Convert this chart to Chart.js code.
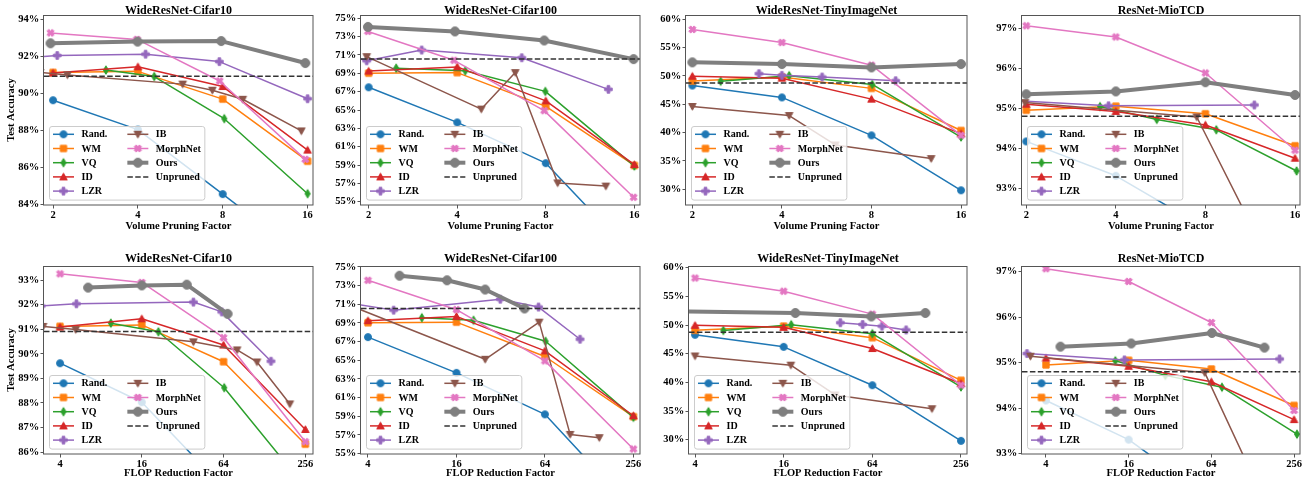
<!DOCTYPE html>
<html>
<head>
<meta charset="utf-8">
<script src="https://cdn.jsdelivr.net/npm/chart.js@4.4.1/dist/chart.umd.min.js"></script>
<style>
  body { margin: 0; background: #fff; }
  #wrap { position: relative; width: 1308px; height: 482px; overflow: hidden; }
  #wrap canvas { position: absolute; }
</style>
</head>
<body>
<div id="wrap"></div>
<script>
// x positions shared by methods that sit on the tick values
const volSteps = [2, 4, 8, 16];
const flopSteps = [4, 16, 64, 256];

// tick labels
const volTicks = [2, 4, 8, 16];
const flopTicks = [4, 16, 64, 256];
const c10VolYTicks = [84, 86, 88, 90, 92, 94];
const c10FlopYTicks = [86, 87, 88, 89, 90, 91, 92, 93];
const c100YTicks = [55, 57, 59, 61, 63, 65, 67, 69, 71, 73, 75];
const tinYTicks = [30, 35, 40, 45, 50, 55, 60];
const mioYTicks = [93, 94, 95, 96, 97];

// WideResNet-Cifar10 (accuracy %, volume factor, FLOP factor)
const c10Rand = [89.62, 88.03, 84.54, 81.0];
const c10WM = [91.12, 91.18, 89.68, 86.32];
const c10VQ = [91.25, 90.9, 88.62, 84.56];
const c10VQVol = [3.08, 4.57, 8.1, 16];
const c10VQFlop = [9.47, 21.2, 64.7, 256];
const c10ID = [91.09, 91.43, 90.36, 86.92];
const c10LZR = [91.95, 92.04, 92.11, 91.71, 89.7];
const c10LZRVol = [1.75, 2.07, 4.26, 7.78, 16];
const c10LZRFlop = [2.9, 5.28, 38.4, 62.1, 143];
const c10IB = [91.12, 90.99, 90.49, 90.16, 89.67, 87.96];
const c10IBVol = [1.8, 2.25, 5.77, 7.35, 9.42, 15.2];
const c10IBFlop = [3.0, 5.22, 38.4, 80.5, 112.8, 197];
const c10Morph = [93.26, 92.91, 90.66, 86.42];
const c10MorphVol = [1.96, 3.97, 7.8, 15.7];
const c10Ours = [92.7, 92.79, 92.82, 91.63];
const c10OursVol = [1.96, 3.99, 7.9, 15.7];
const c10OursFlop = [6.44, 16, 34.3, 68.5];
const c10Unpruned = 90.91;

// WideResNet-Cifar100
const c100Rand = [67.48, 63.65, 59.2, 49.0];
const c100WM = [69.02, 69.08, 65.4, 58.95];
const c100VQ = [69.56, 69.28, 67.03, 58.88];
const c100VQVol = [2.48, 4.26, 7.97, 16];
const c100VQFlop = [9.3, 20.9, 64.7, 256];
const c100ID = [69.24, 69.7, 66.0, 59.05];
const c100LZR = [71.2, 70.37, 71.54, 70.7, 67.25];
const c100LZRVol = [1.6, 1.97, 3.03, 6.63, 13.06];
const c100LZRFlop = [2.8, 5.98, 31.8, 57.9, 111];
const c100IB = [70.82, 65.1, 69.08, 57.05, 56.7];
const c100IBVol = [1.97, 4.83, 6.3, 8.78, 12.8];
const c100IBFlop = [3.07, 25.1, 58.5, 95, 150];
const c100Morph = [73.57, 70.42, 64.93, 55.48];
const c100MorphVol = [1.99, 3.9, 7.9, 15.9];
const c100Ours = [74.06, 73.57, 72.58, 70.55];
const c100OursVol = [1.99, 3.93, 7.9, 15.9];
const c100OursFlop = [6.56, 13.8, 25.1, 46.5];
const c100Unpruned = 70.55;

// WideResNet-TinyImageNet
const tinRand = [48.3, 46.2, 39.5, 29.8];
const tinWM = [49.1, 49.8, 47.8, 40.35];
const tinVQ = [49.05, 50.05, 48.5, 39.2];
const tinVQVol = [2.49, 4.23, 8.05, 16];
const tinVQFlop = [6.23, 18.0, 64, 256];
const tinID = [49.95, 49.6, 45.9, 39.8];
const tinLZR = [50.4, 50.1, 49.8, 49.15];
const tinLZRVol = [3.35, 4.0, 5.46, 9.65];
const tinLZRFlop = [38.8, 55, 74.4, 108.5];
const tinIB = [44.6, 43.0, 37.8, 35.4];
const tinIBVol = [2, 4.23, 6.05, 12.7];
const tinIBFlop = [4, 17.9, 35.8, 162.7];
const tinMorph = [58.2, 55.9, 51.9, 39.5];
const tinOurs = [52.4, 52.1, 51.5, 52.1];
const tinOursFlop = [3.0, 19.2, 63, 146.6];
const tinUnpruned = 48.75;

// ResNet-MioTCD
const mioRand = [94.17, 93.31, 92.0, 89.5];
const mioWM = [94.95, 95.05, 94.86, 94.06];
const mioVQ = [95.04, 94.72, 94.46, 93.43];
const mioVQVol = [3.54, 5.49, 8.7, 16.2];
const mioVQFlop = [12.8, 29.6, 76.5, 269];
const mioID = [95.1, 94.92, 94.58, 93.75];
const mioLZR = [95.2, 95.06, 95.08];
const mioLZRVol = [1.75, 3.78, 11.68];
const mioLZRFlop = [2.91, 14.9, 201];
const mioIB = [95.14, 94.78, 91.0];
const mioIBVol = [1.98, 7.48, 13.5];
const mioIBFlop = [3.08, 57.3, 220];
const mioMorph = [97.06, 96.78, 95.88, 93.95];
const mioOurs = [95.35, 95.42, 95.65, 95.33];
const mioOursFlop = [5.1, 16.7, 64.6, 156];
const mioUnpruned = 94.8;

// [acc, vol x, flop x] per method, in legend order
const c10Series = [
  [c10Rand, volSteps, flopSteps], [c10WM, volSteps, flopSteps], [c10VQ, c10VQVol, c10VQFlop],
  [c10ID, volSteps, flopSteps], [c10LZR, c10LZRVol, c10LZRFlop], [c10IB, c10IBVol, c10IBFlop],
  [c10Morph, c10MorphVol, flopSteps], [c10Ours, c10OursVol, c10OursFlop]
];
const c100Series = [
  [c100Rand, volSteps, flopSteps], [c100WM, volSteps, flopSteps], [c100VQ, c100VQVol, c100VQFlop],
  [c100ID, volSteps, flopSteps], [c100LZR, c100LZRVol, c100LZRFlop], [c100IB, c100IBVol, c100IBFlop],
  [c100Morph, c100MorphVol, flopSteps], [c100Ours, c100OursVol, c100OursFlop]
];
const tinSeries = [
  [tinRand, volSteps, flopSteps], [tinWM, volSteps, flopSteps], [tinVQ, tinVQVol, tinVQFlop],
  [tinID, volSteps, flopSteps], [tinLZR, tinLZRVol, tinLZRFlop], [tinIB, tinIBVol, tinIBFlop],
  [tinMorph, volSteps, flopSteps], [tinOurs, volSteps, tinOursFlop]
];
const mioSeries = [
  [mioRand, volSteps, flopSteps], [mioWM, volSteps, flopSteps], [mioVQ, mioVQVol, mioVQFlop],
  [mioID, volSteps, flopSteps], [mioLZR, mioLZRVol, mioLZRFlop], [mioIB, mioIBVol, mioIBFlop],
  [mioMorph, volSteps, flopSteps], [mioOurs, volSteps, mioOursFlop]
];

const FONT = "'Liberation Serif', 'Times New Roman', serif";

const methodStyle = [
  { label: 'Rand.', color: '#1f77b4', marker: 'o', size: 8, width: 1.5 },
  { label: 'WM', color: '#ff7f0e', marker: 's', size: 8, width: 1.5 },
  { label: 'VQ', color: '#2ca02c', marker: 'd', size: 9.5, width: 1.5 },
  { label: 'ID', color: '#d62728', marker: '^', size: 8.5, width: 1.5 },
  { label: 'LZR', color: '#9467bd', marker: 'P', size: 8.5, width: 1.5 },
  { label: 'IB', color: '#8c564b', marker: 'v', size: 8.5, width: 1.5 },
  { label: 'MorphNet', color: '#e377c2', marker: 'X', size: 8.5, width: 1.5 },
  { label: 'Ours', color: '#7f7f7f', marker: 'o', size: 10, width: 4 }
];

// small canvases used as point styles (matplotlib-like markers)
function makeMarker(kind, color, size) {
  const d = Math.ceil(size) + 4;
  const c = document.createElement('canvas');
  c.width = d; c.height = d;
  const g = c.getContext('2d');
  g.translate(d / 2, d / 2);
  g.fillStyle = color;
  g.strokeStyle = color;
  g.lineWidth = 1;
  g.lineJoin = 'miter';
  const r = size / 2 - 0.5;
  g.beginPath();
  if (kind === 'o') {
    g.arc(0, 0, r, 0, Math.PI * 2);
  } else if (kind === 's') {
    g.rect(-r * 0.9, -r * 0.9, r * 1.8, r * 1.8);
  } else if (kind === 'd') {
    g.moveTo(0, -r); g.lineTo(r * 0.6, 0); g.lineTo(0, r); g.lineTo(-r * 0.6, 0); g.closePath();
  } else if (kind === '^') {
    g.moveTo(0, -r); g.lineTo(r, r * 0.8); g.lineTo(-r, r * 0.8); g.closePath();
  } else if (kind === 'v') {
    g.moveTo(0, r); g.lineTo(r, -r * 0.8); g.lineTo(-r, -r * 0.8); g.closePath();
  } else {
    // filled plus, rotated 45 degrees for 'X'
    const a = r * 0.36;
    const pts = [[-a, -r], [a, -r], [a, -a], [r, -a], [r, a], [a, a], [a, r], [-a, r], [-a, a], [-r, a], [-r, -a], [-a, -a]];
    const rot = kind === 'X' ? Math.PI / 4 : 0;
    pts.forEach(([x, y], i) => {
      const px = x * Math.cos(rot) - y * Math.sin(rot);
      const py = x * Math.sin(rot) + y * Math.cos(rot);
      if (i === 0) g.moveTo(px, py); else g.lineTo(px, py);
    });
    g.closePath();
  }
  g.fill();
  g.stroke();
  return c;
}

const markers = methodStyle.map(m => makeMarker(m.marker, m.color, m.size));

// frame, title and the legend inside the axes
const deco = {
  id: 'deco',
  afterDraw(chart, args, opts) {
    const ctx = chart.ctx;
    const a = chart.chartArea;
    ctx.save();
    ctx.strokeStyle = '#555';
    ctx.lineWidth = 1;
    ctx.strokeRect(Math.round(a.left) - 0.5, Math.round(a.top) + 0.5,
      Math.round(a.right - a.left) + 0.5, Math.round(a.bottom - a.top) - 0.5);

    ctx.fillStyle = '#000';
    ctx.font = 'bold 12px ' + FONT;
    ctx.textAlign = 'center';
    ctx.textBaseline = 'alphabetic';
    ctx.fillText(opts.title, (a.left + a.right) / 2, opts.baseline);

    const sets = chart.data.datasets;
    ctx.font = 'bold 10px ' + FONT;
    const pad = 3.5, handle = 21, gap = 7.5, colGap = 20, rowH = 14.2;
    const cols = [sets.slice(0, 5), sets.slice(5)];
    const widths = cols.map(c => Math.max(...c.map(d => ctx.measureText(d.label).width)));
    const boxW = pad + handle + gap + widths[0] + colGap + handle + gap + widths[1] + 4;
    const boxH = 7.8 + rowH * 4 + 9;
    const bx = Math.round(a.left + 5) + 0.5;
    const by = Math.round(a.bottom - 5 - boxH) + 0.5;
    ctx.beginPath();
    ctx.roundRect(bx, by, boxW, boxH, 2.5);
    ctx.fillStyle = 'rgba(255,255,255,0.8)';
    ctx.fill();
    ctx.strokeStyle = '#cccccc';
    ctx.stroke();

    let cx = bx + pad;
    cols.forEach((col, ci) => {
      col.forEach((d, ri) => {
        const y = by + 7.8 + ri * rowH;
        ctx.beginPath();
        ctx.setLineDash(d.borderDash || []);
        ctx.strokeStyle = d.borderColor;
        ctx.lineWidth = d.borderWidth;
        ctx.moveTo(cx, y);
        ctx.lineTo(cx + handle, y);
        ctx.stroke();
        ctx.setLineDash([]);
        if (d.pointStyle instanceof HTMLCanvasElement) {
          const m = d.pointStyle;
          ctx.drawImage(m, cx + handle / 2 - m.width / 2, y - m.height / 2);
        }
        ctx.fillStyle = '#000';
        ctx.textAlign = 'left';
        ctx.textBaseline = 'middle';
        ctx.fillText(d.label, cx + handle + gap, y + 0.5);
      });
      cx += handle + gap + widths[ci] + colGap;
    });
    ctx.restore();
  }
};

const panels = [
  { title: 'WideResNet-Cifar10', series: c10Series, unpruned: c10Unpruned, kind: 1, yTicks: c10VolYTicks,
    box: [0, 0, 325, 241], area: [44, 15, 313, 205], x: [1.858, 16.72], y: [83.95, 94.23], yLabel: true },
  { title: 'WideResNet-Cifar100', series: c100Series, unpruned: c100Unpruned, kind: 1, yTicks: c100YTicks,
    box: [325, 0, 325, 241], area: [361, 15, 640, 205], x: [1.884, 16.72], y: [54.64, 75.36] },
  { title: 'WideResNet-TinyImageNet', series: tinSeries, unpruned: tinUnpruned, kind: 1, yTicks: tinYTicks,
    box: [650, 0, 325, 241], area: [686, 15, 967, 205], x: [1.904, 16.76], y: [27.2, 60.76] },
  { title: 'ResNet-MioTCD', series: mioSeries, unpruned: mioUnpruned, kind: 1, yTicks: mioYTicks,
    box: [975, 0, 333, 241], area: [1022, 15, 1300, 205], x: [1.935, 16.63], y: [92.58, 97.33] },
  { title: 'WideResNet-Cifar10', series: c10Series, unpruned: c10Unpruned, kind: 2, yTicks: c10FlopYTicks,
    box: [0, 241, 325, 241], area: [44, 266, 313, 454], x: [3.048, 291.6], y: [85.92, 93.58], yLabel: true },
  { title: 'WideResNet-Cifar100', series: c100Series, unpruned: c100Unpruned, kind: 2, yTicks: c100YTicks,
    box: [325, 241, 325, 241], area: [361, 266, 640, 454], x: [3.585, 284], y: [54.95, 75.1] },
  { title: 'WideResNet-TinyImageNet', series: tinSeries, unpruned: tinUnpruned, kind: 2, yTicks: tinYTicks,
    box: [650, 241, 325, 241], area: [689, 266, 967, 454], x: [3.64, 281.3], y: [27.5, 60.3] },
  { title: 'ResNet-MioTCD', series: mioSeries, unpruned: mioUnpruned, kind: 2, yTicks: mioYTicks,
    box: [975, 241, 333, 241], area: [1022, 266, 1300, 454], x: [2.676, 283], y: [92.995, 97.12] }
];

const wrap = document.getElementById('wrap');
const tickFont = { family: FONT, size: 10.5, weight: 'bold' };
const labelFont = { family: FONT, size: 10.5, weight: 'bold' };

panels.forEach(p => {
  const [bx, by, bw, bh] = p.box;
  const [l, t, r, b] = p.area;
  const cv = document.createElement('canvas');
  cv.width = bw; cv.height = bh;
  cv.style.left = bx + 'px'; cv.style.top = by + 'px';
  cv.style.width = bw + 'px'; cv.style.height = bh + 'px';
  wrap.appendChild(cv);

  const datasets = p.series.map((s, i) => {
    const st = methodStyle[i];
    const xs = s[p.kind];
    return {
      label: st.label,
      data: s[0].map((v, k) => ({ x: xs[k], y: v })),
      borderColor: st.color,
      backgroundColor: st.color,
      borderWidth: st.width,
      pointStyle: markers[i],
      pointRadius: 4,
      borderJoinStyle: 'round',
      tension: 0,
      fill: false,
      clip: 0,
      order: 20 - i
    };
  });
  datasets.push({
    label: 'Unpruned',
    data: [{ x: p.x[0], y: p.unpruned }, { x: p.x[1], y: p.unpruned }],
    borderColor: '#333',
    borderWidth: 1.5,
    borderDash: [5.5, 2.4],
    pointRadius: 0,
    fill: false,
    clip: 0,
    order: 0
  });

  const xTicks = p.kind === 1 ? volTicks : flopTicks;

  new Chart(cv, {
    type: 'line',
    data: { datasets },
    plugins: [deco],
    options: {
      responsive: false,
      devicePixelRatio: 1,
      animation: false,
      events: [],
      layout: { padding: { top: t - by, right: bx + bw - r, left: 0, bottom: 0 } },
      plugins: {
        legend: { display: false },
        tooltip: { enabled: false },
        deco: { title: p.title, baseline: p.kind === 1 ? 14 : 20.5 }
      },
      scales: {
        x: {
          type: 'logarithmic',
          min: p.x[0],
          max: p.x[1],
          afterBuildTicks: sc => { sc.ticks = xTicks.map(v => ({ value: v })); },
          afterFit: sc => { sc.height = by + bh - b; },
          grid: { display: true, drawOnChartArea: false, drawTicks: true, tickLength: 3.5, color: '#555' },
          border: { display: false },
          ticks: { font: tickFont, color: '#000', padding: 0, autoSkip: false, maxRotation: 0, minRotation: 0,
            callback: v => String(v) },
          title: { display: true, text: p.kind === 1 ? 'Volume Pruning Factor' : 'FLOP Reduction Factor',
            font: labelFont, color: '#000', padding: { top: 0, bottom: p.kind === 1 ? 8.7 : 2 } }
        },
        y: {
          type: 'linear',
          min: p.y[0],
          max: p.y[1],
          afterBuildTicks: sc => { sc.ticks = p.yTicks.map(v => ({ value: v })); },
          afterFit: sc => { sc.width = l - bx; },
          grid: { display: true, drawOnChartArea: false, drawTicks: true, tickLength: 3.5, color: '#555' },
          border: { display: false },
          ticks: { font: tickFont, color: '#000', padding: 1.2, autoSkip: false, callback: v => v + '%' },
          title: { display: !!p.yLabel, text: 'Test Accuracy', font: labelFont, color: '#000',
            padding: { top: 5.4, bottom: 0 } }
        }
      }
    }
  });
});
</script>
</body>
</html>
